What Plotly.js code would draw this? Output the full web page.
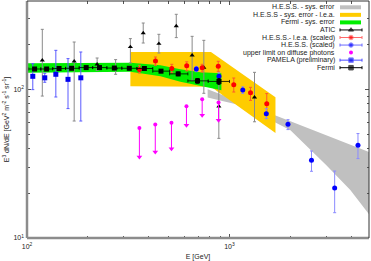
<!DOCTYPE html>
<html><head><meta charset="utf-8">
<script src="https://cdn.plot.ly/plotly-3.0.1.min.js"></script>
<style>html,body{margin:0;padding:0;background:#fff}#chart{width:371px;height:261px}</style>
</head><body><div id="chart"></div>
<script>
// ---- data ----
const fermiE   = [109, 125, 144, 166, 196, 228, 270, 320, 380, 459, 558, 695, 887];
const fermiV   = [137, 137, 138, 138.5, 140, 140, 139, 138.5, 138, 132.5, 127, 114, 113];
const fermiElo = [102, 117, 134, 155, 181, 211, 248, 294, 349, 418, 506, 623, 785];
const fermiEhi = [117, 134, 155, 181, 211, 248, 294, 349, 418, 506, 623, 785, 1000];
const fermiErr = [2.5, 2.5, 2.5, 2.5, 2.5, 3, 3, 3, 3, 3, 3.5, 4, 5];

const atE  = [119, 171, 222, 274, 324, 375, 448, 546, 654, 747, 886, 1329];
const atV  = [156.7, 154.3, 147.3, 139, 192.6, 239.1, 202.9, 266.6, 169.3, 140, 76.9, 88.3];
const atLo = [90.1, 61.2, 134.2, 126.2, 150.3, 204.8, 175.4, 222.7, 114.9, 94.0, 46.8, 60.5];
const atHi = [253.2, 208.0, 162.4, 158.4, 219.3, 279.2, 234.4, 319.5, 227.2, 213.5, 118.6, 130.1];

const leaE  = [359, 431, 519, 615, 733, 880, 1050, 1270, 1528];
const leaV  = [135.7, 155.0, 137.8, 143.9, 139.5, 142.8, 107.2, 94.7, 80.1];
const leaLo = [128.7, 145.0, 129.1, 133.1, 130.7, 132.1, 95.9, 84.3, 69.3];
const leaHi = [145.0, 164.9, 147.3, 153.1, 147.3, 154.3, 119.1, 103.1, 93.6];

const hessE  = [686, 887, 1163, 1520, 1945, 2541, 3307, 4311];
const hessV  = [137, 122.3, 98.9, 68.6, 58.2, 33.3, 21.7, 42.0];
const hessLo = [131.5, 115.8, 94.0, 63.5, 53.6, 28.1, 14.8, 34.2];
const hessHi = [142.5, 129.1, 103.9, 74.2, 62.5, 38.5, 28.2, 50.4];

const pamE  = [106.8, 122.4, 138.8, 159.4, 184.4];
const pamV  = [122.3, 119.5, 126.2, 116.7, 119.5];
const pamLo = [99.5, 111.5, 88.8, 74.2, 61.2];
const pamHi = [148.9, 128.1, 182.9, 160.9, 178.2];

const ulE   = [359, 430, 517, 613, 733, 883];
const ulV   = [54.9, 57.9, 59.7, 76.9, 85.7, 81.5];
const ulEnd = [35.0, 37.9, 39.9, 57.3, 66.9, 61.9];

const grayE  = [780, 900, 1133, 1500, 2000, 3000, 3950, 4900];
const grayHi = [100, 93, 82, 71, 61, 49, 42.4, 37.9];
const grayLo = [88, 84, 78, 65, 53, 31, 21, 14.4];

const yelE  = [324, 810, 1687];
const yelHi = [178.2, 178.2, 88.3];
const yelLo = [104.8, 104, 50.8];

const grnE  = [100, 324, 456, 572, 719, 912];
const grnHi = [149.6, 150.7, 145, 136.3, 130.1, 128.1];
const grnLo = [129.2, 131.1, 122.3, 112.3, 104.8, 98.5];

const xTickVals = [100, 1000];
const xTickText = ['10<sup>2</sup>', '10<sup>3</sup>'];
const xMinor = [200, 300, 400, 500, 600, 700, 800, 900, 2000, 3000, 4000];
const yTickVals = [10, 100];
const yTickText = ['10<sup>1</sup>', '10<sup>2</sup>'];
const yMinor = [20, 30, 40, 50, 60, 70, 80, 90, 200, 300];

const legendLabels = ['H.E.S.S. - sys. error', 'H.E.S.S - sys. error - l.e.a.', 'Fermi - sys. error',
  'ATIC', 'H.E.S.S.- l.e.a. (scaled)', 'H.E.S.S. (scaled)', 'upper limit on diffuse photons',
  'PAMELA (preliminary)', 'Fermi'];

// ---- styles ----
const FONT = 'Liberation Sans, Arial, sans-serif';
const C = {gray:'#c0c0c0', yellow:'#ffcc00', green:'#00ee00', atic:'#000000', aticBar:'#8a8a8a',
  lea:'#ff0000', leaBar:'#ff5a2a', hess:'#0000ff', hessBar:'#8a8aff', pam:'#0000ee', pamBar:'#5a5aff',
  ul:'#ff00ff', fermi:'#000000'};

const sub = (a, b) => a.map((v, i) => v - b[i]);
function band(E, lo, hi, color, name) {
  return {x: E.concat(E.slice().reverse()), y: hi.concat(lo.slice().reverse()), type:'scatter', mode:'lines',
    fill:'toself', fillcolor: color, line:{width:0, color: color}, name, hoverinfo:'skip'};
}
function errSeries(E, V, lo, hi, sym, size, mcol, bcol, name) {
  return {x:E, y:V, type:'scatter', mode:'markers', name,
    marker:{symbol:sym, size, color:mcol, line:{width:0}},
    error_y:{type:'data', symmetric:false, array: sub(hi, V), arrayminus: sub(V, lo), color:bcol, thickness:1, width:1.5}};
}

const traces = [
  band(grayE, grayLo, grayHi, C.gray, legendLabels[0]),
  band(yelE, yelLo, yelHi, C.yellow, legendLabels[1]),
  band(grnE, grnLo, grnHi, C.green, legendLabels[2]),
  errSeries(atE, atV, atLo, atHi, 'triangle-up', 4.5, C.atic, C.aticBar, legendLabels[3]),
  errSeries(leaE, leaV, leaLo, leaHi, 'circle', 5, C.lea, C.leaBar, legendLabels[4]),
  errSeries(hessE, hessV, hessLo, hessHi, 'circle', 5, C.hess, C.hessBar, legendLabels[5]),
  {x:ulE, y:ulV, type:'scatter', mode:'markers', name:legendLabels[6], marker:{symbol:'circle', size:4, color:C.ul},
    error_y:{type:'data', symmetric:false, array: ulV.map(() => 0), arrayminus: sub(ulV, ulEnd), color:C.ul, thickness:1, width:0}},
  {x:ulE, y:ulEnd, type:'scatter', mode:'markers', name:'arrow', showlegend:false,
    marker:{symbol:'triangle-down', size:5, color:C.ul}},
  errSeries(pamE, pamV, pamLo, pamHi, 'square', 5, C.pam, C.pamBar, legendLabels[7]),
  Object.assign(errSeries(fermiE, fermiV, sub(fermiV, fermiErr), fermiV.map((v,i)=>v+fermiErr[i]), 'square', 5, C.fermi, C.fermi, legendLabels[8]),
    {error_x:{type:'data', symmetric:false, array: sub(fermiEhi, fermiE), arrayminus: sub(fermiE, fermiElo), color:'#000', thickness:0.8, width:1.5}})
];

// ---- manual legend (gnuplot style: text right-aligned, sample on the right) ----
const M = {l:27, r:2, t:1, b:23};
const W = 371, H = 261;
const pxLeft = M.l, pxRight = W - M.r, pxTop = M.t, pxBottom = H - M.b;
const rowY0 = 7.3, rowStep = 7.55, textRight = 337, sx0 = 340, sx1 = 362;
const shapes = [];
const annotations = [];
const legendStyles = [
  {kind:'band', color:C.gray}, {kind:'band', color:C.yellow}, {kind:'band', color:C.green},
  {kind:'line', line:'#000', marker:C.atic, sym:'triangle-up'},
  {kind:'line', line:'#ff6a6a', marker:C.lea, sym:'circle'},
  {kind:'line', line:'#6a6aff', marker:C.hess, sym:'circle'},
  {kind:'dot', marker:C.ul, sym:'circle'},
  {kind:'line', line:'#4a4aff', marker:C.pam, sym:'square'},
  {kind:'line', line:'#000', marker:C.fermi, sym:'square'}
];
legendLabels.forEach((lab, i) => {
  const ry = rowY0 + rowStep * i;
  annotations.push({xref:'x2', yref:'y2', x:textRight, y:ry, text:lab, showarrow:false, xanchor:'right', yanchor:'middle',
    font:{family:FONT, size:7, color:'#222'}});
  const st = legendStyles[i];
  if (st.kind === 'band') {
    shapes.push({type:'rect', xref:'x2', yref:'y2', x0:sx0, x1:sx1 - 1, y0:ry - 2, y1:ry + 2, fillcolor:st.color, line:{width:0}});
  } else if (st.kind === 'line') {
    traces.push({x:[sx0, (sx0 + sx1) / 2, sx1], y:[ry, ry, ry], xaxis:'x2', yaxis:'y2', type:'scatter', mode:'lines+markers',
      showlegend:false, hoverinfo:'skip', line:{color:st.line, width:1},
      marker:{symbol:st.sym, size:[0, 4.5, 0], color:st.marker},
      error_y:{type:'data', array:[1.5, 0, 1.5], color:st.line, thickness:1, width:0}});
  } else {
    traces.push({x:[(sx0 + sx1) / 2], y:[ry], xaxis:'x2', yaxis:'y2', type:'scatter', mode:'markers', showlegend:false,
      hoverinfo:'skip', marker:{symbol:st.sym, size:4, color:st.marker}});
  }
});

// frame: thick gray left/bottom, thin dark top/right
shapes.push({type:'line', xref:'paper', yref:'paper', x0:0, x1:0, y0:0, y1:1, line:{color:'#8c8c8c', width:2.5}, layer:'above'});
shapes.push({type:'line', xref:'paper', yref:'paper', x0:0, x1:1, y0:0, y1:0, line:{color:'#8c8c8c', width:2.5}, layer:'above'});
shapes.push({type:'line', xref:'paper', yref:'paper', x0:0, x1:1, y0:1, y1:1, line:{color:'#333', width:1}, layer:'above'});
shapes.push({type:'line', xref:'paper', yref:'paper', x0:1, x1:1, y0:0, y1:1, line:{color:'#333', width:1}, layer:'above'});

const axisCommon = {type:'log', ticks:'inside', ticklen:4, tickwidth:1, tickcolor:'#555', showline:false, mirror:'allticks',
  showgrid:false, zeroline:false, tickfont:{family:FONT, size:7, color:'#222'}, automargin:false, tickmode:'array',
  minor:{ticks:'inside', ticklen:2.5, tickcolor:'#555', showgrid:false}};

const layout = {
  width:W, height:H, margin:M, showlegend:false, paper_bgcolor:'#fff', plot_bgcolor:'#fff',
  font:{family:FONT, size:7, color:'#222'},
  xaxis: Object.assign({}, axisCommon, {range:[2, 3.689], tickvals:xTickVals, ticktext:xTickText, ticklabelstandoff:3,
    minor:Object.assign({}, axisCommon.minor, {tickvals:xMinor}),
    title:{text:'E [GeV]', font:{family:FONT, size:7, color:'#222'}, standoff:6}}),
  yaxis: Object.assign({}, axisCommon, {range:[1, 2.594], tickvals:yTickVals, ticktext:yTickText, ticklabelstandoff:2,
    minor:Object.assign({}, axisCommon.minor, {tickvals:yMinor}),
    title:{text:'E<sup>3</sup> dN/dE [GeV<sup>2</sup> m<sup>-2</sup> s<sup>-1</sup> sr<sup>-1</sup>]', font:{family:FONT, size:7, color:'#222'}, standoff:3}}),
  xaxis2:{overlaying:'x', range:[pxLeft, pxRight], visible:false, fixedrange:true},
  yaxis2:{overlaying:'y', range:[pxBottom, pxTop], visible:false, fixedrange:true},
  shapes, annotations
};

Plotly.newPlot('chart', traces, layout, {staticPlot:true, displayModeBar:false});
</script></body></html>
